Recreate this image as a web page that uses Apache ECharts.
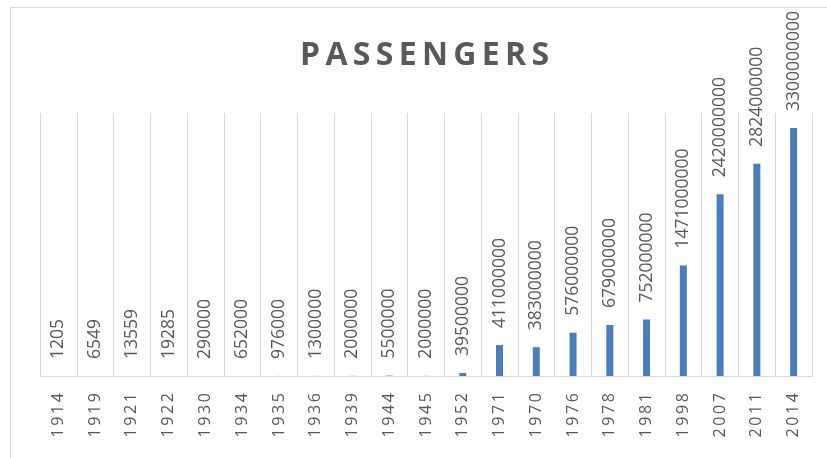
<!DOCTYPE html>
<html>
<head>
<meta charset="utf-8">
<script src="https://cdn.jsdelivr.net/npm/echarts@6/dist/echarts.min.js"></script>
<style>
  html, body { margin: 0; padding: 0; background: #fff; }
  #chart { width: 827px; height: 458px; }
</style>
</head>
<body>
<div id="chart"></div>
<script>
// Passenger counts by year
const years = ['1914', '1919', '1921', '1922', '1930', '1934', '1935', '1936', '1939', '1944', '1945',
               '1952', '1971', '1970', '1976', '1978', '1981', '1998', '2007', '2011', '2014'];
const passengers = [1205, 6549, 13559, 19285, 290000, 652000, 976000, 1300000, 2000000, 5500000, 2000000,
                    39500000, 411000000, 383000000, 576000000, 679000000, 752000000, 1471000000,
                    2420000000, 2824000000, 3300000000];
const chartTitle = 'PASSENGERS';

const TEXT = '#595959';
const LINE = '#d9d9d9';
const spaced = (s, gap) => s.split('').join(gap);

const chart = echarts.init(document.getElementById('chart'), null, { renderer: 'canvas' });
chart.setOption({
  animation: false,
  backgroundColor: '#fff',
  title: {
    text: spaced(chartTitle, '\u2009'),
    left: 300,
    top: 40,
    padding: 0,
    textStyle: { fontFamily: 'Open Sans', fontWeight: 'bold', fontSize: 32, color: TEXT }
  },
  graphic: [{
    type: 'rect',
    shape: { x: 10.5, y: 7.5, width: 900, height: 500 },
    style: { fill: 'none', stroke: LINE, lineWidth: 1 },
    silent: true
  }],
  grid: { left: 40, right: 15, top: 113, bottom: 82 },
  xAxis: {
    type: 'category',
    data: years,
    axisLine: { show: true, lineStyle: { color: LINE, width: 1 } },
    axisTick: { show: false },
    splitLine: { show: true, lineStyle: { color: LINE, width: 1 } },
    axisLabel: {
      rotate: 90,
      margin: 17,
      interval: 0,
      color: TEXT,
      fontFamily: 'Open Sans',
      fontSize: 16,
      formatter: v => spaced(v, '\u2009')
    }
  },
  yAxis: {
    type: 'value',
    min: 0,
    max: 3500000000,
    show: false,
    splitLine: { show: false }
  },
  series: [{
    type: 'bar',
    data: passengers,
    barWidth: 7,
    itemStyle: { color: '#4a7ebb' },
    label: {
      show: true,
      position: 'top',
      distance: 17,
      rotate: 90,
      align: 'left',
      verticalAlign: 'middle',
      color: TEXT,
      fontFamily: 'Open Sans',
      fontSize: 17.5,
      formatter: p => String(p.value)
    }
  }]
});
</script>
</body>
</html>
